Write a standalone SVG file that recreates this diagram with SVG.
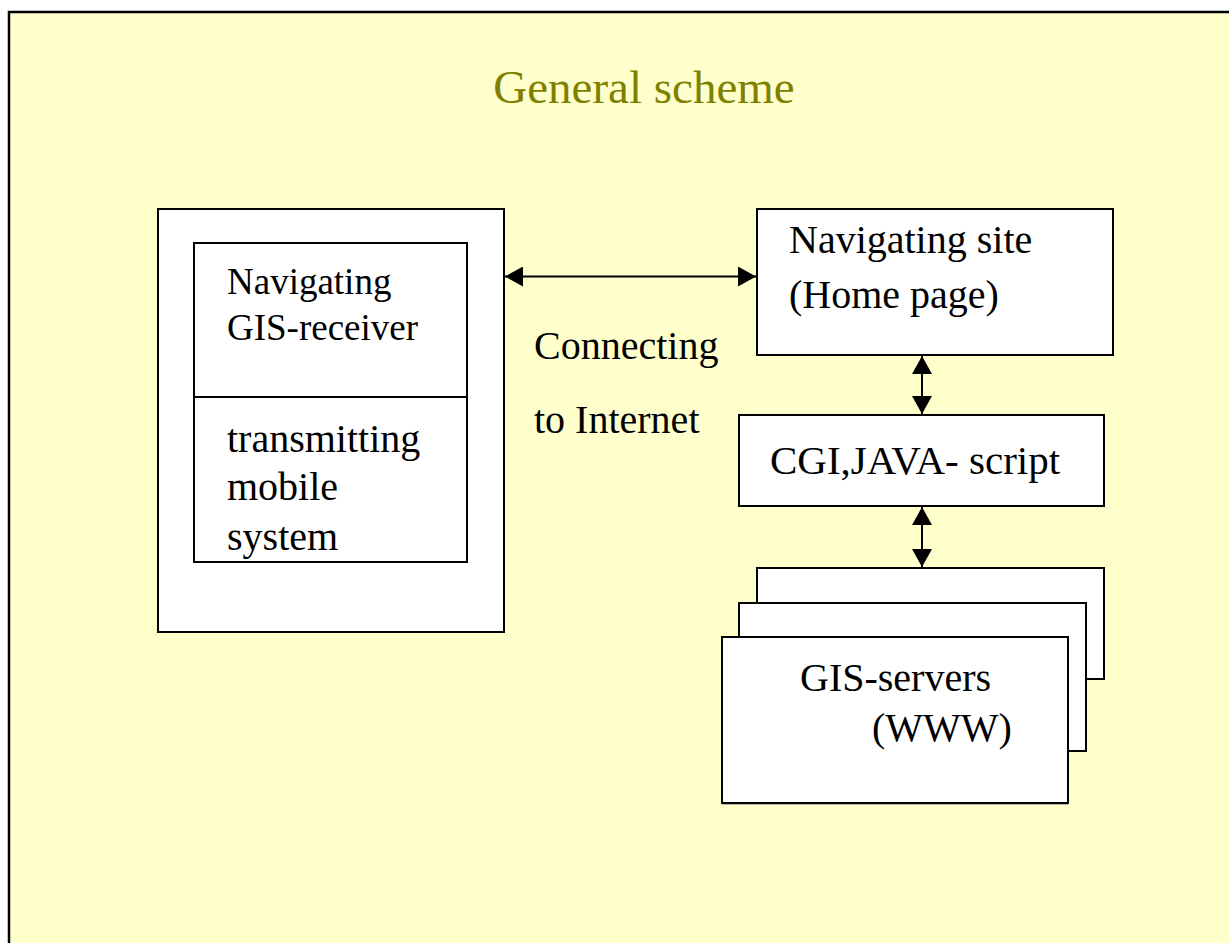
<svg xmlns="http://www.w3.org/2000/svg" width="1229" height="943" viewBox="0 0 1229 943">
<style>
.box{fill:#ffffff;stroke:#000000;stroke-width:2}
.t{font-family:"Liberation Serif","Times New Roman",serif;fill:#000000}
.conn{stroke:#000000;stroke-width:2;fill:none}
</style>
<defs>
<marker id="ah" markerUnits="userSpaceOnUse" markerWidth="19" markerHeight="20" refX="18" refY="10" orient="auto-start-reverse" viewBox="0 0 19 20">
<path d="M0,0 L18,10 L0,20 z" fill="#000000"/>
</marker>
</defs>
<rect x="0" y="0" width="1229" height="943" fill="#ffffff"/>
<rect x="9" y="12" width="1240" height="960" fill="#ffffcc" stroke="#000000" stroke-width="2.5"/>
<text x="644" y="103" text-anchor="middle" font-family="Liberation Serif, Times New Roman, serif" font-size="47" fill="#808000">General scheme</text>
<g id="mobile">
<rect class="box" x="158" y="209" width="346" height="423"/>
<rect class="box" x="194" y="243" width="273" height="319"/>
<line x1="194" y1="397" x2="467" y2="397" stroke="#000" stroke-width="2"/>
<text class="t" font-size="37" x="227" y="294">Navigating</text>
<text class="t" font-size="37" x="227" y="340">GIS-receiver</text>
<text class="t" font-size="40" x="227" y="452">transmitting</text>
<text class="t" font-size="40" x="227" y="500">mobile</text>
<text class="t" font-size="40" x="227" y="550">system</text>
</g>
<g id="label-internet">
<text class="t" font-size="40" x="534" y="359">Connecting</text>
<text class="t" font-size="40" x="534" y="433">to Internet</text>
</g>
<g id="site">
<rect class="box" x="757" y="209" width="356" height="146"/>
<text class="t" font-size="40" x="789" y="253">Navigating site</text>
<text class="t" font-size="40" x="789" y="308">(Home page)</text>
</g>
<g id="cgi">
<rect class="box" x="739" y="415" width="365" height="91"/>
<text class="t" font-size="41" x="770" y="474">CGI,JAVA- script</text>
</g>
<g id="servers">
<rect class="box" x="757" y="568" width="347" height="111"/>
<rect class="box" x="739" y="603" width="347" height="148"/>
<line x1="722" y1="804" x2="1068" y2="804" stroke="#999999" stroke-width="1.5"/>
<rect class="box" x="722" y="637" width="346" height="166"/>
<text class="t" font-size="40" x="800" y="691">GIS-servers</text>
<text class="t" font-size="40" x="872" y="741">(WWW)</text>
</g>
<g id="connectors">
<line class="conn" x1="505" y1="276.5" x2="756" y2="276.5" marker-start="url(#ah)" marker-end="url(#ah)"/>
<line class="conn" x1="922" y1="356" x2="922" y2="414" marker-start="url(#ah)" marker-end="url(#ah)"/>
<line class="conn" x1="922" y1="507" x2="922" y2="567" marker-start="url(#ah)" marker-end="url(#ah)"/>
</g>
</svg>
